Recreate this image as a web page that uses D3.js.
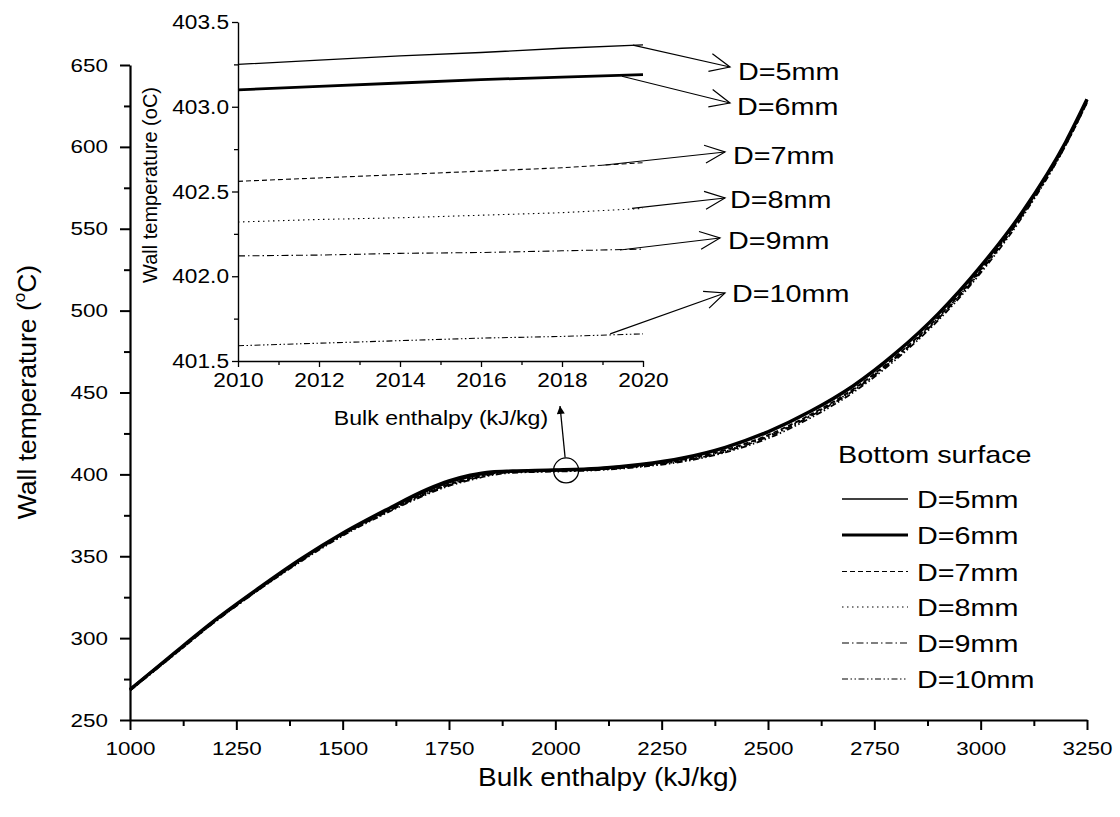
<!DOCTYPE html>
<html>
<head>
<meta charset="utf-8">
<script src="https://cdn.jsdelivr.net/npm/d3@7"></script>
<style>
  body { margin: 0; background: #fff; }
  svg { display: block; }
  text { font-family: "Liberation Sans", Arial, Helvetica, sans-serif; fill: #000; }
</style>
</head>
<body>
<svg id="chart" width="1120" height="817"></svg>
<script>
// ---- main chart data: wall temperature vs bulk enthalpy ----
const enthalpy = [1000, 1100, 1200, 1300, 1400, 1500, 1600, 1700, 1750, 1800, 1850, 1900, 2000,
                  2100, 2200, 2300, 2400, 2500, 2600, 2700, 2800, 2900, 3000, 3100, 3200, 3250];
const tempD5  = [269, 290, 311, 330, 348, 364, 378, 390, 395, 398.5, 401, 402, 402.8,
                 403.8, 406, 410, 416.5, 426, 438.5, 454, 474, 498, 527, 561, 603, 629];
const tempD6  = [268.5, 290, 311, 330, 348, 364, 378, 391, 396, 399.5, 401.5, 402, 402.6,
                 403.6, 406, 410, 416.5, 426, 438.5, 454, 474, 498, 527, 561, 603, 629];
const tempD7  = [268.5, 289.5, 310.5, 329.5, 347.5, 363.5, 377, 389, 394, 397.5, 400.5, 401.8, 402.5,
                 403.3, 405.5, 409, 415, 424, 436.5, 452, 472, 496, 525, 560, 602, 628];
const tempD8  = [268.5, 289.5, 310.5, 329.5, 347, 363, 377, 389, 394, 397.5, 400.5, 401.6, 402.3,
                 403.1, 405.2, 408.6, 414.5, 423.5, 436, 451.5, 471.5, 495.5, 524.5, 559.5, 602, 628];
const tempD9  = [268, 289, 310, 329, 347, 363, 376.5, 388.5, 393.5, 397, 400, 401.4, 402.1,
                 402.9, 405, 408.3, 414, 423, 435.5, 451, 471, 495, 524, 559, 601, 627];
const tempD10 = [268, 289, 310, 329, 346.5, 362.5, 376, 388, 393, 396.5, 399.5, 401, 401.7,
                 402.6, 404.6, 407.8, 413.5, 422, 434.5, 450, 470, 494, 523, 558, 601, 627];

// ---- zoomed detail around 2010-2020 kJ/kg ----
const insetEnthalpy = [2010, 2012, 2014, 2016, 2018, 2020];
const insetD5  = [403.25, 403.275, 403.30, 403.32, 403.345, 403.365];
const insetD6  = [403.10, 403.12, 403.14, 403.16, 403.175, 403.19];
const insetD7  = [402.56, 402.58, 402.60, 402.62, 402.64, 402.67];
const insetD8  = [402.32, 402.335, 402.345, 402.36, 402.375, 402.40];
const insetD9  = [402.12, 402.125, 402.135, 402.14, 402.15, 402.16];
const insetD10 = [401.59, 401.605, 401.62, 401.635, 401.645, 401.66];

const seriesNames = ["D=5mm", "D=6mm", "D=7mm", "D=8mm", "D=9mm", "D=10mm"];
const legendTitle = "Bottom surface";

// ---- tick values ----
const xTicks = [1000, 1250, 1500, 1750, 2000, 2250, 2500, 2750, 3000, 3250];
const xMinorTicks = [1125, 1375, 1625, 1875, 2125, 2375, 2625, 2875, 3125];
const yTicks = [250, 300, 350, 400, 450, 500, 550, 600, 650];
const yMinorTicks = [275, 325, 375, 425, 475, 525, 575, 625];
const insetXTicks = [2010, 2012, 2014, 2016, 2018, 2020];
const insetXMinorTicks = [2011, 2013, 2015, 2017, 2019];
const insetYTicks = [401.5, 402.0, 402.5, 403.0, 403.5];
const insetYMinorTicks = [401.75, 402.25, 402.75, 403.25];

// circled point and where each label arrow leaves its curve
const circledPoint = [2030, 403];
const arrowStarts = [[2019.75, 403.364], [2019.48, 403.18], [2019.0, 402.655],
                     [2019.73, 402.40], [2019.43, 402.155], [2019.19, 401.66]];

// ---- line styles per series ----
const styles = [
  { width: 1.3, dash: null },
  { width: 2.8, dash: null },
  { width: 1.1, dash: "5,3" },
  { width: 1.1, dash: "1.5,3.5" },
  { width: 1.1, dash: "7,3,1.5,3" },
  { width: 1.1, dash: "6,2.5,1.5,2.5,1.5,2.5" }
];

const svg = d3.select("#chart");

// text helper: glyphs are drawn slightly wide
function label(parent, x, y, str, size, sx, anchor) {
  const g = parent.append("g").attr("transform", `translate(${x},${y}) scale(${sx},1)`);
  return g.append("text").attr("text-anchor", anchor || "start")
    .style("font-size", size + "px").text(str);
}

// ---- main chart ----
const x = d3.scaleLinear().domain([1000, 3250]).range([130, 1087]);
const y = d3.scaleLinear().domain([250, 650]).range([720, 65]);

function styleTicks(g, sx, isLeft, pad) {
  g.selectAll(".tick text").each(function () {
    const t = d3.select(this);
    if (isLeft) t.attr("x", -pad / sx);
    t.attr("transform", `scale(${sx},1)`);
  });
}

const mainTickSize = 19, mainTickSx = 1.18;
const gx = svg.append("g").attr("transform", "translate(0,720)")
  .call(d3.axisBottom(x).tickValues(xTicks).tickSize(10).tickPadding(12).tickSizeOuter(0).tickFormat(d3.format("d")));
svg.append("g").attr("transform", "translate(0,720)")
  .call(d3.axisBottom(x).tickValues(xMinorTicks).tickSize(6).tickFormat("")).select(".domain").remove();
const gy = svg.append("g").attr("transform", "translate(130,0)")
  .call(d3.axisLeft(y).tickValues(yTicks).tickSize(10).tickPadding(12).tickSizeOuter(0).tickFormat(d3.format("d")));
svg.append("g").attr("transform", "translate(130,0)")
  .call(d3.axisLeft(y).tickValues(yMinorTicks).tickSize(6).tickFormat("")).select(".domain").remove();

svg.selectAll(".tick line").attr("stroke", "#000").attr("stroke-width", 2);
svg.selectAll(".domain").attr("stroke", "#000").attr("stroke-width", 2.2);
[gx, gy].forEach(g => g.selectAll(".tick text")
  .style("font-size", mainTickSize + "px").style("font-family", "Liberation Sans, Arial, sans-serif").attr("fill", "#000"));
styleTicks(gx, mainTickSx, false);
styleTicks(gy, mainTickSx, true, 22);

const mainSeries = [tempD5, tempD6, tempD7, tempD8, tempD9, tempD10];
const line = d3.line().x(d => x(d[0])).y(d => y(d[1])).curve(d3.curveMonotoneX);
mainSeries.forEach((vals, i) => {
  svg.append("path")
    .datum(enthalpy.map((h, k) => [h, vals[k]]))
    .attr("d", line).attr("fill", "none").attr("stroke", "#000")
    .attr("stroke-width", styles[i].width + 0.7)
    .attr("stroke-dasharray", styles[i].dash);
});

// axis titles
label(svg, 608, 786, "Bulk enthalpy (kJ/kg)", 25, 1.12, "middle");
const yt = svg.append("g").attr("transform", "translate(36,392) rotate(-90)")
  .append("text").attr("text-anchor", "middle").style("font-size", "26.5px");
yt.append("tspan").text("Wall temperature (");
yt.append("tspan").text("o").style("font-size", "17px").attr("dy", "-11");
yt.append("tspan").text("C)").attr("dy", "11");

// circled region and arrow up to the detail plot
svg.append("ellipse").attr("cx", x(circledPoint[0]) - 2).attr("cy", y(circledPoint[1]) + 1)
  .attr("rx", 12.5).attr("ry", 12.5).attr("fill", "none").attr("stroke", "#000").attr("stroke-width", 1.3);
svg.append("defs").append("marker").attr("id", "solidHead")
  .attr("viewBox", "0 0 10 10").attr("refX", 10).attr("refY", 5)
  .attr("markerWidth", 14).attr("markerHeight", 8).attr("markerUnits", "userSpaceOnUse")
  .attr("orient", "auto")
  .append("path").attr("d", "M0,0 L10,5 L0,10 Z").attr("fill", "#000");
svg.append("line").attr("x1", x(circledPoint[0]) - 3).attr("y1", y(circledPoint[1]) - 12)
  .attr("x2", 560).attr("y2", 406).attr("stroke", "#000").attr("stroke-width", 1.3)
  .attr("marker-end", "url(#solidHead)");

// ---- legend ----
const legend = svg.append("g");
label(legend, 838, 463, legendTitle, 24, 1.2, "start");
const legendRows = [499, 535, 571.5, 607, 643, 679];
seriesNames.forEach((name, i) => {
  legend.append("line").attr("x1", 842).attr("x2", 908)
    .attr("y1", legendRows[i]).attr("y2", legendRows[i])
    .attr("stroke", "#000").attr("stroke-width", styles[i].width)
    .attr("stroke-dasharray", styles[i].dash);
  label(legend, 917, legendRows[i] + 9, name, 23, 1.25, "start");
});

// ---- detail plot ----
const ix = d3.scaleLinear().domain([2010, 2020]).range([238, 643]);
const iy = d3.scaleLinear().domain([401.5, 403.5]).range([361, 22]);
const inset = svg.append("g");
const igx = inset.append("g").attr("transform", "translate(0,361)")
  .call(d3.axisBottom(ix).tickValues(insetXTicks).tickSize(6).tickPadding(5).tickSizeOuter(0).tickFormat(d3.format("d")));
inset.append("g").attr("transform", "translate(0,361)")
  .call(d3.axisBottom(ix).tickValues(insetXMinorTicks).tickSize(4).tickFormat("")).select(".domain").remove();
const igy = inset.append("g").attr("transform", "translate(238,0)")
  .call(d3.axisLeft(iy).tickValues(insetYTicks).tickSize(6).tickPadding(3).tickSizeOuter(0).tickFormat(d3.format(".1f")));
inset.append("g").attr("transform", "translate(238,0)")
  .call(d3.axisLeft(iy).tickValues(insetYMinorTicks).tickSize(4).tickFormat("")).select(".domain").remove();
inset.selectAll(".tick line").attr("stroke", "#000").attr("stroke-width", 1.3);
inset.selectAll(".domain").attr("stroke", "#000").attr("stroke-width", 1.4);
[igx, igy].forEach(g => g.selectAll(".tick text")
  .style("font-size", "21px").style("font-family", "Liberation Sans, Arial, sans-serif").attr("fill", "#000"));
styleTicks(igx, 1.08, false);
styleTicks(igy, 1.08, true, 9);

const insetSeries = [insetD5, insetD6, insetD7, insetD8, insetD9, insetD10];
const iline = d3.line().x(d => ix(d[0])).y(d => iy(d[1]));
insetSeries.forEach((vals, i) => {
  inset.append("path")
    .datum(insetEnthalpy.map((h, k) => [h, vals[k]]))
    .attr("d", iline).attr("fill", "none").attr("stroke", "#000")
    .attr("stroke-width", styles[i].width)
    .attr("stroke-dasharray", styles[i].dash);
});

label(inset, 441, 425, "Bulk enthalpy (kJ/kg)", 21, 1.1, "middle");
inset.append("g").attr("transform", "translate(157,185) rotate(-90)")
  .append("text").attr("text-anchor", "middle").style("font-size", "20px")
  .text("Wall temperature (oC)");

// label arrows with open heads
const arrowTips = [[730, 67], [730, 103], [725, 152], [725, 198], [720, 238], [725, 293]];
const labelPos = [[738, 80], [737, 115], [733, 164], [730, 208], [728, 249], [732, 302]];
seriesNames.forEach((name, i) => {
  const sx0 = ix(arrowStarts[i][0]), sy0 = iy(arrowStarts[i][1]);
  const [tx, ty] = arrowTips[i];
  inset.append("line").attr("x1", sx0).attr("y1", sy0).attr("x2", tx).attr("y2", ty)
    .attr("stroke", "#000").attr("stroke-width", 1.2);
  const ang = Math.atan2(ty - sy0, tx - sx0);
  const len = 22, spread = 0.42;
  const p1 = [tx - len * Math.cos(ang - spread), ty - len * Math.sin(ang - spread)];
  const p2 = [tx - len * Math.cos(ang + spread), ty - len * Math.sin(ang + spread)];
  inset.append("path").attr("d", `M${p1[0]},${p1[1]} L${tx},${ty} L${p2[0]},${p2[1]}`)
    .attr("fill", "none").attr("stroke", "#000").attr("stroke-width", 1.2);
  label(inset, labelPos[i][0], labelPos[i][1], name, 23, 1.25, "start");
});
</script>
</body>
</html>
